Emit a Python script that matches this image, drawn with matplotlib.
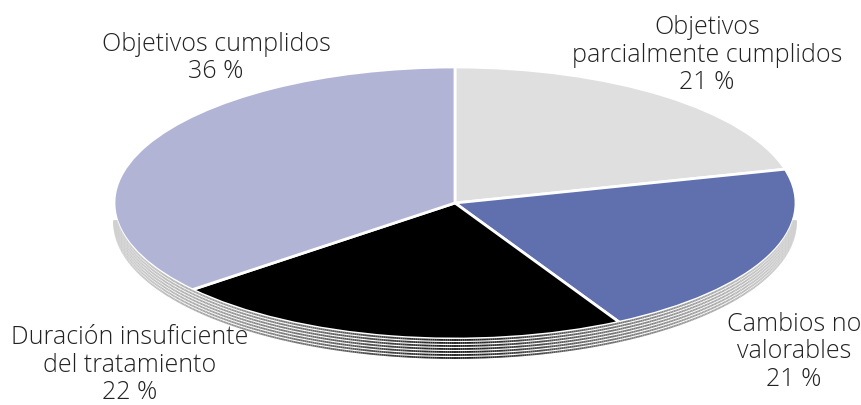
import numpy as np
import matplotlib
matplotlib.use('Agg')
import matplotlib.pyplot as plt
from matplotlib.collections import LineCollection
from matplotlib.patches import Ellipse

plt.rcParams['font.family'] = ['Open Sans', 'DejaVu Sans']

labels = ['Objetivos\nparcialmente cumplidos\n21 %', 'Cambios no\nvalorables\n21 %',
          'Duración insuficiente\ndel tratamiento\n22 %', 'Objetivos cumplidos\n36 %']
values = [21, 21, 22, 36]
colors = ['#DFDFDF', '#6070AE', '#000000', '#B2B4D6']
# label centres in pixels of the 861x405 image
label_x = [707, 794, 130, 216]
label_y = [55, 352, 365, 58]

W, H = 861, 405
cx, cy, rx, ry = 455, 203, 341, 136
depth = 19

fig = plt.figure(figsize=(W / 100, H / 100), dpi=100)
ax = fig.add_axes([(cx - rx) / W, 1 - (cy + ry) / H, 2 * rx / W, 2 * ry / H])

# striped side of the disc, shifted copies of the lower edge
t = np.linspace(np.pi, 2 * np.pi, 500)
for d in np.arange(depth, 0, -3.0):
    xs = np.cos(t)
    ys = np.sin(t) - d / ry
    keep = ys < -17 / ry
    pts = np.column_stack([xs[keep], ys[keep]]).reshape(-1, 1, 2)
    segs = np.concatenate([pts[:-1], pts[1:]], axis=1)
    grey = 0.08 + 0.74 * np.abs(xs[keep][:-1]) ** 0.9
    lc = LineCollection(segs, colors=[(g, g, g) for g in grey], linewidths=1.3, clip_on=False)
    ax.add_collection(lc)

# white gap between the top face and the stripes
ax.add_patch(Ellipse((0, -1.5 / ry), 2, 2, facecolor='white', edgecolor='white', clip_on=False))

wedges, _ = ax.pie(values, colors=colors, startangle=90, counterclock=False,
                   wedgeprops={'edgecolor': 'white', 'linewidth': 2.0, 'clip_on': False})
ax.set_aspect('auto')
ax.set_xlim(-1, 1)
ax.set_ylim(-1, 1)

for lab, x, y in zip(labels, label_x, label_y):
    fig.text(x / W, 1 - y / H, lab, ha='center', va='center', fontsize=18,
             color='#222222', linespacing=1.14, fontweight='light')

fig.savefig('out.png', dpi=100, facecolor='white')
